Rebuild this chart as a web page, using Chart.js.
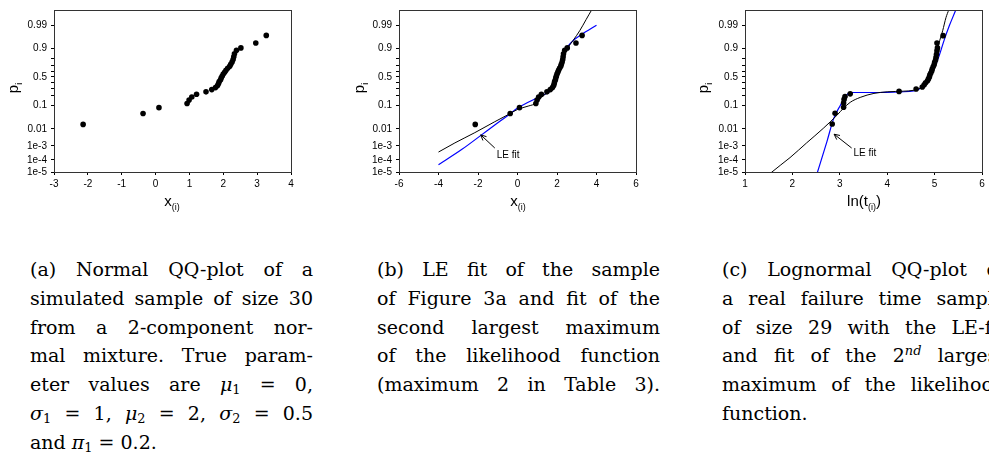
<!DOCTYPE html>
<html lang="en">
<head>
<meta charset="UTF-8">
<title>QQ-plots with LE fit</title>
<script src="https://cdn.jsdelivr.net/npm/chart.js@4"></script>
<style>
    body {
        margin: 0;
        width: 989px;
        height: 457px;
        overflow: hidden;
        position: relative;
        background: #ffffff;
    }
    canvas {
        position: absolute;
        top: 0;
    }
    .xtitle, .ytitle {
        position: absolute;
        font-family: "Liberation Sans", Arial, sans-serif;
        font-size: 15px;
        line-height: 16px;
        color: #000;
        white-space: nowrap;
    }
    .xtitle sub, .ytitle sub {
        font-size: 9px;
        vertical-align: -4px;
        line-height: 0;
    }
    .xtitle { top: 193px; transform: translateX(-50%); }
    .ytitle { top: 88px; transform: translate(-50%, -50%) rotate(-90deg); }
    .caption {
        position: absolute;
        top: 255px;
        width: 283px;
        font-family: "DejaVu Serif", serif;
        font-size: 19px;
        line-height: 28.8px;
        color: #000;
    }
    .caption div {
        text-align: justify;
        text-align-last: justify;
    }
    .caption div.last { text-align-last: left; }
    .caption sub, .caption sup {
        font-size: 0.68em;
        line-height: 0;
    }
    .caption sub { vertical-align: -0.25em; }
    .caption sup { vertical-align: 0.55em; font-style: italic; }
</style>
</head>
<body>

<canvas id="chartA" width="300" height="195" style="left:0px"></canvas>
<canvas id="chartB" width="300" height="195" style="left:345px"></canvas>
<canvas id="chartC" width="300" height="195" style="left:691px"></canvas>

<span class="ytitle" style="left:13px">p<sub>i</sub></span>
<span class="ytitle" style="left:359px">p<sub>i</sub></span>
<span class="ytitle" style="left:703px">p<sub>i</sub></span>
<span class="xtitle" style="left:172px">x<sub>(i)</sub></span>
<span class="xtitle" style="left:518px">x<sub>(i)</sub></span>
<span class="xtitle" style="left:864px">ln(t<sub>(i)</sub>)</span>

<div class="caption" style="left:30px">
    <div>(a) Normal QQ-plot of a</div>
    <div>simulated sample of size 30</div>
    <div>from a 2-component nor-</div>
    <div>mal mixture. True param-</div>
    <div>eter values are <i>μ</i><sub>1</sub> = 0,</div>
    <div><i>σ</i><sub>1</sub> = 1, <i>μ</i><sub>2</sub> = 2, <i>σ</i><sub>2</sub> = 0.5</div>
    <div class="last">and <i>π</i><sub>1</sub> = 0.2.</div>
</div>
<div class="caption" style="left:377px">
    <div>(b) LE fit of the sample</div>
    <div>of Figure 3a and fit of the</div>
    <div>second largest maximum</div>
    <div>of the likelihood function</div>
    <div>(maximum 2 in Table 3).</div>
</div>
<div class="caption" style="left:722px">
    <div>(c) Lognormal QQ-plot of</div>
    <div>a real failure time sample</div>
    <div>of size 29 with the LE-fit</div>
    <div>and fit of the 2<sup>nd</sup> largest</div>
    <div>maximum of the likelihood</div>
    <div class="last">function.</div>
</div>

<script>
    // y axis is the standard normal quantile, labelled with probabilities
    const yTickZ = [-4.265, -3.719, -3.090, -2.326, -1.282, -0.842, -0.524, -0.253, 0, 0.253, 0.524, 0.842, 1.282, 2.326];
    const yTickLabels = ['1e-5', '1e-4', '1e-3', '0.01', '0.1', '', '', '', '0.5', '', '', '', '0.9', '0.99'];
    const yMin = -4.265;
    const yMax = 3.0;

    // simulated sample (figures a and b): x(i) and normal score of p_i
    const sampleX = [-2.14, -0.37, 0.10, 0.93, 0.99, 1.07, 1.21, 1.49, 1.66, 1.77, 1.83, 1.86, 1.88, 1.92, 1.94,
                     1.97, 2.00, 2.04, 2.08, 2.13, 2.19, 2.22, 2.26, 2.29, 2.31, 2.33, 2.39, 2.52, 2.96, 3.27];
    const sampleZ = [-2.13, -1.64, -1.38, -1.19, -1.04, -0.90, -0.78, -0.67, -0.57, -0.48, -0.39, -0.30, -0.21, -0.13, -0.04,
                     0.04, 0.13, 0.21, 0.30, 0.39, 0.48, 0.57, 0.67, 0.78, 0.90, 1.04, 1.19, 1.30, 1.52, 1.86];

    // figure b: second maximum (black) and LE fit (blue)
    const fitB2X = [-4.0, -3.17, -2.16, -1.15, -0.47, 0, 0.54, 0.96, 1.22, 1.47, 1.72, 1.89, 2.06, 2.23, 2.40, 2.57, 2.82, 3.15, 3.48, 3.74, 3.9];
    const fitB2Z = [-3.37, -2.96, -2.50, -2.01, -1.69, -1.46, -1.31, -1.17, -0.92, -0.73, -0.58, -0.41, 0.03, 0.61, 1.05, 1.34, 1.64, 2.07, 2.58, 2.98, 3.2];
    const fitBLeX = [-4.0, -2.83, -1.82, -1.15, -0.47, 0, 0.54, 1.05, 1.55, 1.81, 1.98, 2.15, 2.31, 2.48, 2.74, 3.24, 4.0];
    const fitBLeZ = [-3.94, -3.26, -2.60, -2.16, -1.72, -1.40, -1.14, -0.92, -0.70, -0.53, -0.19, 0.32, 0.91, 1.27, 1.56, 1.90, 2.32];
    const arrowB = { tail: [-1.15, -3.19], head: [-1.86, -2.60], text: [-1.05, -3.51] };

    // figure c: failure times, ln(t(i)) and normal score of p_i
    const failX = [2.84, 2.90, 3.08, 3.08, 3.09, 3.11, 3.22, 4.25, 4.61, 4.74, 4.78, 4.81, 4.85, 4.87, 4.89,
                   4.90, 4.92, 4.94, 4.95, 4.97, 4.99, 5.00, 5.02, 5.03, 5.04, 5.05, 5.06, 5.05, 5.18];
    const failZ = [-2.11, -1.63, -1.36, -1.17, -1.01, -0.88, -0.76, -0.65, -0.54, -0.45, -0.35, -0.26, -0.17, -0.09, 0,
                   0.09, 0.17, 0.26, 0.35, 0.45, 0.54, 0.65, 0.76, 0.88, 1.01, 1.17, 1.30, 1.52, 1.85];
    const fitC2X = [1.50, 1.56, 1.95, 2.30, 2.65, 2.94, 3.08, 3.22, 3.43, 3.72, 4.0, 4.35, 4.56, 4.71, 4.85, 4.95, 5.02, 5.09, 5.17, 5.24, 5.30, 5.35];
    const fitC2Z = [-4.40, -4.28, -3.62, -2.96, -2.31, -1.72, -1.40, -1.14, -0.92, -0.74, -0.67, -0.64, -0.60, -0.48, -0.19, 0.32, 0.83, 1.49, 2.07, 2.66, 3.02, 3.4];
    const fitCLeX = [2.51, 2.73, 2.87, 3.01, 3.11, 3.19, 3.29, 3.72, 4.28, 4.56, 4.67, 4.78, 4.88, 4.99, 5.09, 5.20, 5.31, 5.45, 5.5];
    const fitCLeZ = [-4.40, -2.89, -1.87, -1.28, -0.92, -0.73, -0.70, -0.70, -0.67, -0.63, -0.55, -0.34, -0.04, 0.39, 0.91, 1.64, 2.29, 3.02, 3.3];
    const arrowC = { tail: [3.25, -3.19], head: [2.88, -2.57], text: [3.29, -3.43] };

    const tickFont = { family: '"Liberation Sans", Arial, sans-serif', size: 10 };

    function pts(xs, ys) {
        return xs.map((x, i) => ({ x: x, y: ys[i] }));
    }

    function dots(xs, ys) {
        return { data: pts(xs, ys), pointRadius: 2.8, pointBackgroundColor: '#000', pointBorderWidth: 0, showLine: false };
    }

    function curve(xs, ys, color, width) {
        return { data: pts(xs, ys), showLine: true, borderColor: color, borderWidth: width, pointRadius: 0, cubicInterpolationMode: 'monotone' };
    }

    // box round the plot area
    const framePlugin = {
        id: 'frame',
        afterDraw(chart) {
            const a = chart.chartArea, ctx = chart.ctx;
            ctx.save();
            ctx.strokeStyle = '#333';
            ctx.lineWidth = 1;
            ctx.strokeRect(Math.round(a.left) + 0.5, Math.round(a.top) + 0.5, Math.round(a.right - a.left), Math.round(a.bottom - a.top));
            ctx.restore();
        }
    };

    // "LE fit" pointer
    const arrowPlugin = {
        id: 'leArrow',
        afterDatasetsDraw(chart, args, opts) {
            if (!opts || !opts.tail) return;
            const sx = chart.scales.x, sy = chart.scales.y, ctx = chart.ctx;
            const tx = sx.getPixelForValue(opts.tail[0]), ty = sy.getPixelForValue(opts.tail[1]);
            const hx = sx.getPixelForValue(opts.head[0]), hy = sy.getPixelForValue(opts.head[1]);
            const ang = Math.atan2(hy - ty, hx - tx);
            ctx.save();
            ctx.strokeStyle = '#000';
            ctx.lineWidth = 1;
            ctx.beginPath();
            ctx.moveTo(tx, ty);
            ctx.lineTo(hx, hy);
            ctx.moveTo(hx - 6 * Math.cos(ang - 0.45), hy - 6 * Math.sin(ang - 0.45));
            ctx.lineTo(hx, hy);
            ctx.lineTo(hx - 6 * Math.cos(ang + 0.45), hy - 6 * Math.sin(ang + 0.45));
            ctx.stroke();
            ctx.fillStyle = '#000';
            ctx.font = '10px "Liberation Sans", Arial, sans-serif';
            ctx.textBaseline = 'middle';
            ctx.fillText('LE fit', sx.getPixelForValue(opts.text[0]), sy.getPixelForValue(opts.text[1]));
            ctx.restore();
        }
    };

    function makeChart(id, xMin, xMax, xStep, datasets, arrow) {
        new Chart(document.getElementById(id), {
            type: 'scatter',
            data: { datasets: datasets },
            options: {
                responsive: false,
                animation: false,
                devicePixelRatio: 1,
                layout: { padding: { top: 5, right: 9, left: 0, bottom: 0 } },
                plugins: {
                    legend: { display: false },
                    tooltip: { enabled: false },
                    leArrow: arrow || {}
                },
                scales: {
                    x: {
                        type: 'linear',
                        min: xMin,
                        max: xMax,
                        ticks: { stepSize: xStep, color: '#000', font: tickFont, padding: 3, maxRotation: 0 },
                        grid: { drawOnChartArea: false, tickLength: 3, color: '#000' },
                        border: { color: '#000' },
                        afterFit(s) { s.height = 23; }
                    },
                    y: {
                        type: 'linear',
                        min: yMin,
                        max: yMax,
                        afterBuildTicks(s) { s.ticks = yTickZ.map(v => ({ value: v })); },
                        ticks: { autoSkip: false, color: '#000', font: tickFont, padding: 4, callback: (v, i) => yTickLabels[i] },
                        grid: { drawOnChartArea: false, tickLength: 3, color: '#000' },
                        border: { color: '#000' },
                        afterFit(s) { s.width = 54; }
                    }
                }
            },
            plugins: [framePlugin, arrowPlugin]
        });
    }

    makeChart('chartA', -3, 4, 1, [dots(sampleX, sampleZ)]);

    makeChart('chartB', -6, 6, 2, [
        dots(sampleX, sampleZ),
        curve(fitB2X, fitB2Z, '#000', 1),
        curve(fitBLeX, fitBLeZ, '#0000ff', 1.2)
    ], arrowB);

    makeChart('chartC', 1, 6, 1, [
        dots(failX, failZ),
        curve(fitC2X, fitC2Z, '#000', 1),
        curve(fitCLeX, fitCLeZ, '#0000ff', 1.2)
    ], arrowC);
</script>

</body>
</html>
